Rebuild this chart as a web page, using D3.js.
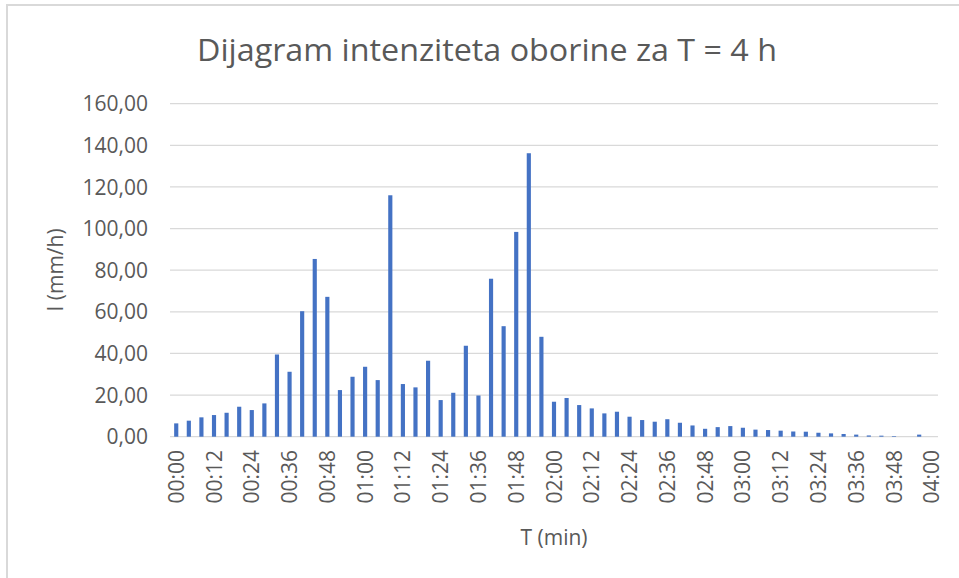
<!DOCTYPE html>
<html>
<head>
<meta charset="utf-8">
<script src="https://cdn.jsdelivr.net/npm/d3@7"></script>
<style>
body { margin: 0; background: #fff; }
text { font-family: "Open Sans", sans-serif; fill: #595959; }
</style>
</head>
<body>
<div id="chartDiv"></div>
<script>
var w = 959
var h = 578

// categories (every 4 minutes)
var times = ["00:00","00:04","00:08","00:12","00:16","00:20","00:24","00:28","00:32","00:36",
	"00:40","00:44","00:48","00:52","00:56","01:00","01:04","01:08","01:12","01:16",
	"01:20","01:24","01:28","01:32","01:36","01:40","01:44","01:48","01:52","01:56",
	"02:00","02:04","02:08","02:12","02:16","02:20","02:24","02:28","02:32","02:36",
	"02:40","02:44","02:48","02:52","02:56","03:00","03:04","03:08","03:12","03:16",
	"03:20","03:24","03:28","03:32","03:36","03:40","03:44","03:48","03:52","03:56",
	"04:00"]

// intensity I (mm/h)
var intensity = [6.4, 7.7, 9.3, 10.4, 11.5, 14.4, 12.8, 16.0, 39.5, 31.2,
	60.3, 85.4, 67.2, 22.4, 28.8, 33.6, 27.2, 116.0, 25.3, 23.7,
	36.5, 17.6, 21.1, 43.7, 19.8, 75.9, 53.1, 98.4, 136.2, 48.0,
	16.8, 18.6, 15.2, 13.6, 11.2, 12.0, 9.6, 8.0, 7.2, 8.4,
	6.7, 5.4, 3.8, 4.6, 5.1, 4.3, 3.4, 3.2, 2.9, 2.5,
	2.4, 1.9, 1.6, 1.3, 1.0, 0.6, 0.5, 0.3, 0, 1.0,
	0]

var yTicks = [0, 20, 40, 60, 80, 100, 120, 140, 160]

var svg = d3.select("#chartDiv")
	.append("svg")
	.attr("width", w)
	.attr("height", h)

// chart area border (left + top only visible)
svg.append("path")
	.attr("d", "M7,578 V5 H959")
	.style("fill", "none")
	.style("stroke", "#d9d9d9")
	.style("stroke-width", 2)

var x = d3.scaleBand()
	.domain(times)
	.range([170, 938])
	.paddingInner(0.67)
	.paddingOuter(0.33)

var y = d3.scaleLinear()
	.domain([0, 160])
	.range([436.7, 103.7])

var fmt = function(v) { return d3.format(".2f")(v).replace(".", ",") }

// gridlines
svg.append("g")
	.selectAll("line")
	.data(yTicks)
	.enter()
	.append("line")
	.attr("x1", 170)
	.attr("x2", 938)
	.attr("y1", function(d) {return y(d)})
	.attr("y2", function(d) {return y(d)})
	.style("stroke", "#d9d9d9")
	.style("stroke-width", "1.3px")

// y labels
svg.append("g")
	.selectAll("text")
	.data(yTicks)
	.enter()
	.append("text")
	.attr("x", 148)
	.attr("y", function(d) {return y(d)})
	.attr("dy", "0.36em")
	.attr("text-anchor", "end")
	.style("font-size", "21px")
	.text(fmt)

// bars
svg.append("g")
	.selectAll("rect")
	.data(intensity)
	.enter()
	.append("rect")
	.attr("x", function(d, i) {return x(times[i])})
	.attr("width", x.bandwidth())
	.attr("y", function(d) {return y(d)})
	.attr("height", function(d) {return y(0) - y(d)})
	.style("fill", "#4472c4")

// x labels, every 3rd category
svg.append("g")
	.selectAll("text")
	.data(times.filter(function(t, i) {return i % 3 == 0}))
	.enter()
	.append("text")
	.attr("transform", function(d) {
		return "translate(" + (x(d) + x.bandwidth() / 2) + ",450) rotate(-90)"
	})
	.attr("dy", "0.36em")
	.attr("text-anchor", "end")
	.style("font-size", "21px")
	.text(function(d) {return d})

// titles
svg.append("text")
	.attr("x", 487)
	.attr("y", 61)
	.attr("text-anchor", "middle")
	.attr("textLength", 580)
	.attr("lengthAdjust", "spacingAndGlyphs")
	.style("font-size", "31px")
	.text("Dijagram intenziteta oborine za T = 4 h")

svg.append("text")
	.attr("x", 554)
	.attr("y", 545)
	.attr("text-anchor", "middle")
	.style("font-size", "21px")
	.text("T (min)")

svg.append("text")
	.attr("transform", "translate(63,270) rotate(-90)")
	.attr("text-anchor", "middle")
	.style("font-size", "21px")
	.text("I (mm/h)")
</script>
</body>
</html>
